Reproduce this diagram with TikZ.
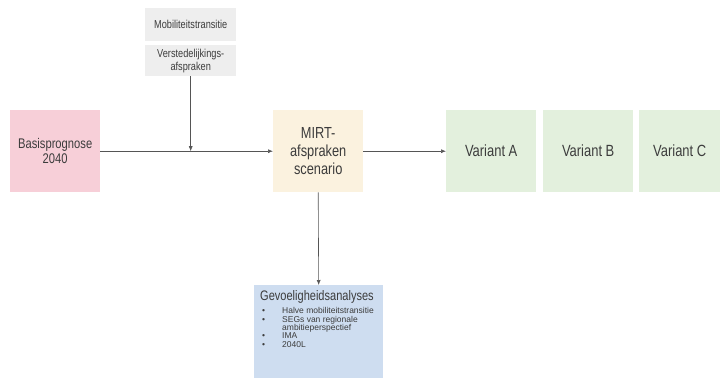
\documentclass[tikz,border=0pt]{standalone}
\usepackage{fontspec}
\setmainfont[FakeStretch=0.8]{Liberation Sans}
\newfontfamily\listfont[FakeStretch=1.0]{Liberation Sans}
\usetikzlibrary{arrows.meta}
\definecolor{txt}{HTML}{3C3C3C}
\definecolor{ln}{HTML}{555555}
\definecolor{pinkbox}{HTML}{F7CFD8}
\definecolor{graybox}{HTML}{EEEEEE}
\definecolor{yellowbox}{HTML}{FBF2DF}
\definecolor{greenbox}{HTML}{E3F0DD}
\definecolor{bluebox}{HTML}{CEDDF0}
\tikzset{
  box/.style={anchor=north west, inner sep=0pt, draw=none, align=center, text=txt},
  arr/.style={draw=ln, line width=0.6pt, -{Latex[length=5pt,width=4pt]}},
}
\begin{document}
\begin{tikzpicture}[x=1pt,y=-1pt]
\useasboundingbox (0,0) rectangle (720,378);
% boxes
\node[box, fill=pinkbox, minimum width=90pt, minimum height=82pt, font=\fontsize{14}{15.5}\selectfont] (basis) at (10,110) {Basisprognose\\2040};
\node[box, fill=graybox, minimum width=91pt, minimum height=33pt, font=\fontsize{11.5}{13}\selectfont] (mobi) at (145,8) {Mobiliteitstransitie};
\node[box, fill=graybox, minimum width=91pt, minimum height=31pt, font=\fontsize{11.5}{13}\selectfont] (verst) at (145,45) {Verstedelijkings-\\afspraken};
\node[box, fill=yellowbox, minimum width=90pt, minimum height=82pt, font=\fontsize{16}{18}\selectfont] (mirt) at (273,110) {MIRT-\\afspraken\\scenario};
\node[box, fill=greenbox, minimum width=90pt, minimum height=82pt, font=\fontsize{16.2}{18}\selectfont] (varA) at (446,110) {Variant A};
\node[box, fill=greenbox, minimum width=90pt, minimum height=82pt, font=\fontsize{16.2}{18}\selectfont] (varB) at (543,110) {Variant B};
\node[box, fill=greenbox, minimum width=81pt, minimum height=82pt, font=\fontsize{16.2}{18}\selectfont] (varC) at (639,110) {Variant C};
\node[box, fill=bluebox, minimum width=129pt, minimum height=93pt] (gev) at (254,285) {};
\node[anchor=base west, inner sep=0pt, text=txt, font=\fontsize{13.8}{15}\selectfont] (gevhead) at (260,300.5) {Gevoeligheidsanalyses};
\node[anchor=north west, inner sep=0pt, text=txt, align=left, font=\listfont\fontsize{8.5}{8.3}\selectfont] (gevlist) at (262,307.5) {\makebox[20pt][l]{•}Halve mobiliteitstransitie\\\makebox[20pt][l]{•}SEGs van regionale\\\makebox[20pt][l]{}ambitieperspectief\\\makebox[20pt][l]{•}IMA\\\makebox[20pt][l]{•}2040L};
% connectors
\draw[arr] (basis.east) -- (mirt.west);
\draw[arr] (verst.south) -- (verst.south |- basis.east);
\draw[arr] (mirt.east) -- (varA.west);
\draw[arr] (mirt.south) -- (gev.north);
\end{tikzpicture}
\end{document}
